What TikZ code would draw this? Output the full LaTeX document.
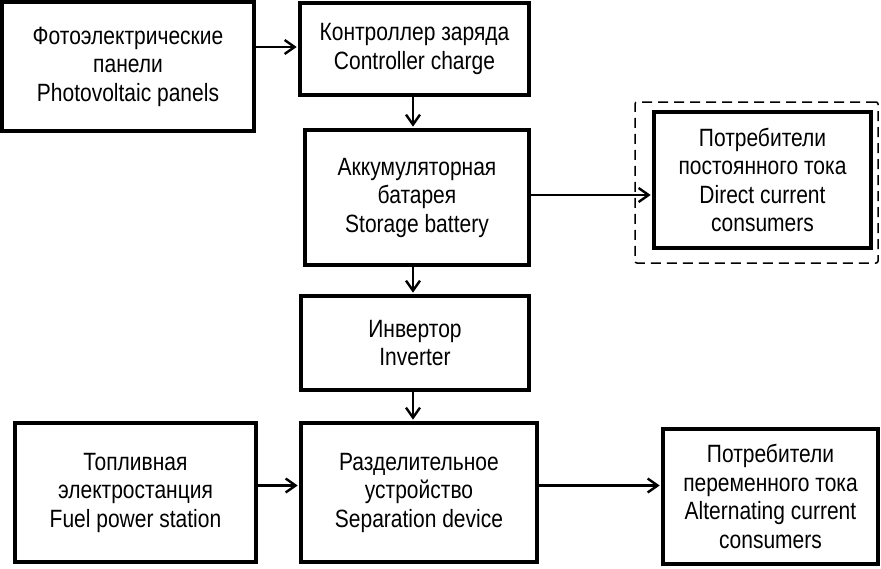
\documentclass[tikz,border=0pt]{standalone}
\usepackage{fontspec}
\setmainfont{Liberation Sans}[FakeStretch=0.84]
\usetikzlibrary{arrows.meta}
\begin{document}
\begin{tikzpicture}[x=1pt,y=-1pt,
  blk/.style={draw=black,line width=3.6pt,inner sep=0pt,align=center,
    font=\fontsize{25pt}{28.5pt}\selectfont},
  arr/.style={line width=2.4pt,-{Straight Barb[length=10pt,width=14pt,line width=2.4pt]},shorten >=1.5pt},
  dashbox/.style={draw=black,line width=1.5pt,dash pattern=on 10pt off 6pt,rounded corners=2pt,inner sep=0pt}]
\useasboundingbox[fill=white] (0,0) rectangle (881,568);
% boxes: center, width, height
\node[blk,minimum width=252pt,minimum height=129pt] (A) at (128,66.5) {Фотоэлектрические\\панели\\Photovoltaic panels};
\node[blk,minimum width=229pt,minimum height=92pt] (B) at (414.5,49) {Контроллер заряда\\Controller charge};
\node[blk,minimum width=224pt,minimum height=135pt] (C) at (417,197.5) {Аккумуляторная\\батарея\\Storage battery};
\node[dashbox,minimum width=243pt,minimum height=161pt] (DB) at (756.5,182.5) {};
\node[blk,minimum width=217pt,minimum height=136pt] (D) at (762.5,180) {Потребители\\постоянного тока\\Direct current\\consumers};
\node[blk,minimum width=228pt,minimum height=94pt] (E) at (415,343) {Инвертор\\Inverter};
\node[blk,minimum width=241pt,minimum height=139pt] (F) at (135.5,492.5) {Топливная\\электростанция\\Fuel power station};
\node[blk,minimum width=236pt,minimum height=139pt] (G) at (419,492.5) {Разделительное\\устройство\\Separation device};
\node[blk,minimum width=215pt,minimum height=135pt] (H) at (770.5,496.5) {Потребители\\переменного тока\\Alternating current\\consumers};
% connector levels
\coordinate (yab) at (0,47);
\coordinate (xc) at (413,0);
\coordinate (ycd) at (0,195);
\coordinate (yfg) at (0,485.5);
% connectors
\draw[arr] (A.east |- yab) -- (B.west |- yab);
\draw[arr] (B.south -| xc) -- (C.north -| xc);
\draw[arr] (C.east |- ycd) -- (D.west |- ycd);
\draw[arr] (C.south -| xc) -- (E.north -| xc);
\draw[arr] (E.south -| xc) -- (G.north -| xc);
\draw[arr] (F.east |- yfg) -- (G.west |- yfg);
\draw[arr] (G.east |- yfg) -- (H.west |- yfg);
\end{tikzpicture}
\end{document}
